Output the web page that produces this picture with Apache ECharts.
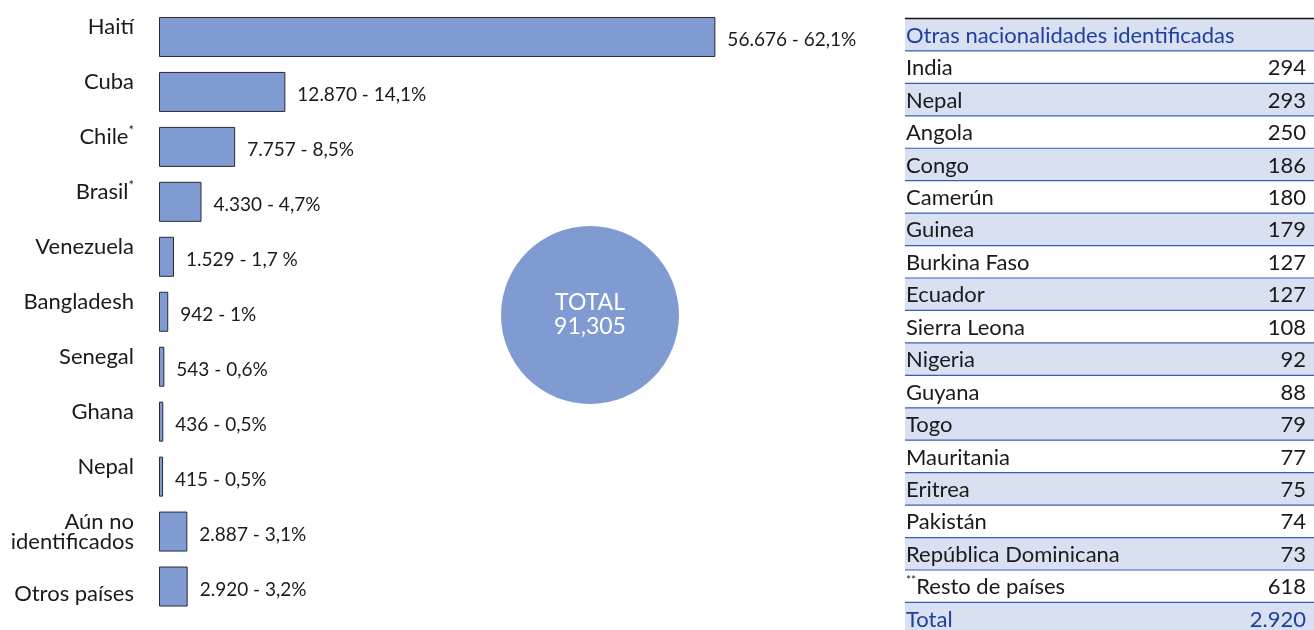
<!DOCTYPE html>
<html>
<head>
<meta charset="utf-8">
<script src="https://cdn.jsdelivr.net/npm/echarts@6/dist/echarts.min.js"></script>
<style>
  html, body { margin: 0; padding: 0; background: #fff; }
  #chart { width: 1314px; height: 630px; }
</style>
</head>
<body>
<div id="chart"></div>
<script>
// barras por nacionalidad
const countries = ['Haití', 'Cuba', 'Chile*', 'Brasil*', 'Venezuela', 'Bangladesh', 'Senegal', 'Ghana', 'Nepal', 'Aún no\nidentificados', 'Otros países']
const counts = [56676, 12870, 7757, 4330, 1529, 942, 543, 436, 415, 2887, 2920]
const countLabels = ['56.676 - 62,1%', '12.870 - 14,1%', '7.757 - 8,5%', '4.330 - 4,7%', '1.529 - 1,7 %', '942 - 1%', '543 - 0,6%', '436 - 0,5%', '415 - 0,5%', '2.887 - 3,1%', '2.920 - 3,2%']
const totalText = ['TOTAL', '91,305']

// tabla de otras nacionalidades
const otherTitle = 'Otras nacionalidades identificadas'
const otherNames = ['India', 'Nepal', 'Angola', 'Congo', 'Camerún', 'Guinea', 'Burkina Faso', 'Ecuador', 'Sierra Leona', 'Nigeria', 'Guyana', 'Togo', 'Mauritania', 'Eritrea', 'Pakistán', 'República Dominicana', '**Resto de países']
const otherCounts = ['294', '293', '250', '186', '180', '179', '127', '127', '108', '92', '88', '79', '77', '75', '74', '73', '618']
const otherTotal = ['Total', '2.920']

const FONT = 'Lato, "Open Sans", sans-serif'
const BAR = '#7f9bd1'
const BLUE_TXT = '#1f3f9f'
const TXT = '#1a1a1a'

const chart = echarts.init(document.getElementById('chart'))

// tabla con elementos graphic
function buildTable() {
  const els = []
  const x0 = 905, x1 = 1314, top = 18.5, rowH = 32.44
  const rows = [[otherTitle, '']].concat(otherNames.map((n, i) => [n, otherCounts[i]]), [otherTotal])
  rows.forEach((r, i) => {
    const y = top + i * rowH
    if (i % 2 === 0) {
      els.push({ type: 'rect', shape: { x: x0, y: y, width: x1 - x0, height: rowH }, style: { fill: '#d9e0f1' }, z: 1 })
    }
    els.push({
      type: 'line', shape: { x1: x0, y1: y, x2: x1, y2: y },
      style: { stroke: i === 0 ? '#111' : '#3a5cb8', lineWidth: i === 0 ? 1.5 : 1.2 }, z: 3
    })
    const color = (i === 0 || i === rows.length - 1) ? BLUE_TXT : TXT
    let name = r[0]
    let rich = {}
    if (name.startsWith('**')) {
      name = '{s|**}{n|' + name.slice(2) + '}'
      rich = {
        s: { fontSize: 12, lineHeight: 8, padding: [0, 0, 14, 0], fontFamily: FONT, fill: color },
        n: { fontSize: 22, lineHeight: 22, fontFamily: FONT, fill: color }
      }
    }
    els.push({
      type: 'text', x: x0 + 1, y: y + rowH / 2 + 1, z: 4,
      style: { text: name, rich: rich, fontSize: 22, fontFamily: FONT, fill: color, verticalAlign: 'middle', align: 'left' }
    })
    if (r[1]) {
      els.push({
        type: 'text', x: 1306, y: y + rowH / 2 + 1, z: 4,
        style: { text: r[1], fontSize: 22, fontFamily: FONT, fill: color, verticalAlign: 'middle', align: 'right' }
      })
    }
  })
  return els
}

chart.setOption({
  animation: false,
  grid: { left: 159, right: 566, top: 9.5, bottom: 16 },
  xAxis: { type: 'value', min: 0, max: 60000, show: false },
  yAxis: {
    type: 'category',
    data: countries,
    inverse: true,
    axisLine: { show: false },
    axisTick: { show: false },
    axisLabel: {
      margin: 25,
      color: TXT,
      fontFamily: FONT,
      fontSize: 22,
      formatter: (v, i) => {
        if (v.indexOf('\n') >= 0) return v.split('\n').map(s => '{m|' + s + '}').join('\n')
        if (i === countries.length - 1) return '{d|' + v + '}'
        if (v.endsWith('*')) return '{a|' + v.slice(0, -1) + '}{s|*}'
        return '{a|' + v + '}'
      },
      rich: {
        a: { fontSize: 22, fontFamily: FONT, color: TXT, lineHeight: 20, padding: [0, 0, 20, 0] },
        s: { fontSize: 13, fontFamily: FONT, color: TXT, lineHeight: 6, padding: [0, 0, 32, 0] },
        m: { fontSize: 22, fontFamily: FONT, color: TXT, lineHeight: 20 },
        d: { fontSize: 22, fontFamily: FONT, color: TXT, lineHeight: 20, padding: [15, 0, 0, 0] }
      }
    }
  },
  series: [{
    type: 'bar',
    data: counts,
    barWidth: 40,
    itemStyle: { color: BAR, borderColor: '#2a2a35', borderWidth: 1 },
    label: {
      show: true,
      position: 'right',
      distance: 12,
      offset: [0, 3],
      fontFamily: FONT,
      fontSize: 19,
      color: TXT,
      formatter: p => countLabels[p.dataIndex]
    }
  }],
  graphic: [
    { type: 'circle', shape: { cx: 590, cy: 315, r: 89 }, style: { fill: BAR }, z: 2 },
    {
      type: 'text', x: 590, y: 315, z: 3,
      style: { text: totalText.join('\n'), fill: '#fff', fontSize: 23, lineHeight: 24, fontFamily: FONT, align: 'center', verticalAlign: 'middle' }
    }
  ].concat(buildTable())
})
</script>
</body>
</html>
